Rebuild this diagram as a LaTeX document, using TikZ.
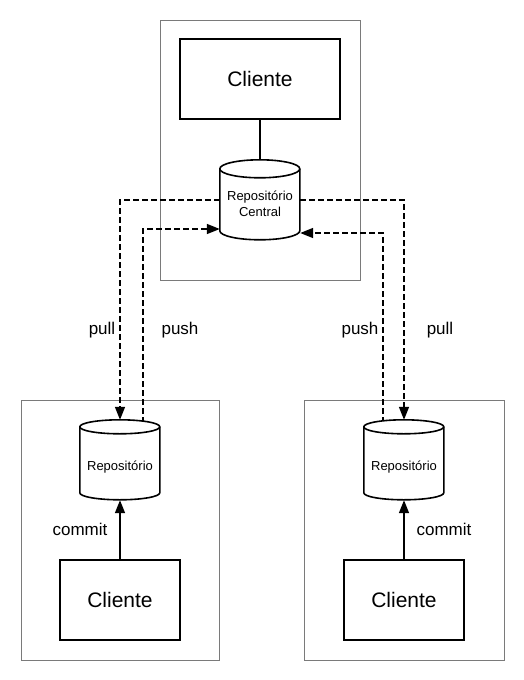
\documentclass[tikz,border=0pt]{standalone}
\usepackage{fontspec}
\setmainfont{Liberation Sans}
\usetikzlibrary{arrows.meta}
\tikzset{
  outer/.style={draw=black!52, line width=1pt, fill=none},
  cbox/.style={draw=black, line width=1.6pt, fill=white, minimum width=120pt, minimum height=80pt, font=\fontsize{21}{25}\selectfont},
  cylnode/.style={draw=none, minimum width=80pt, minimum height=80pt, inner sep=0pt},
  solid line/.style={draw=black, line width=1.6pt},
  dashline/.style={draw=black, line width=1.6pt, dash pattern=on 6pt off 3pt, -{Triangle[length=13pt,width=10pt]}},
  commitarrow/.style={draw=black, line width=1.6pt, -{Triangle[length=13pt,width=10pt]}},
  lbl/.style={font=\fontsize{17}{20}\selectfont, inner sep=0pt},
  cyltext/.style={font=\fontsize{13}{16}\selectfont, align=center, inner sep=0pt},
}
\newcommand\mycyl[2]{%
  \path (#1.north west) ++(0,-#2) coordinate (#1-a);
  \filldraw[fill=white, draw=black, line width=1.6pt] (#1-a) -- ++(0,{-(80-2*#2)}) arc[start angle=180, end angle=360, x radius=40, y radius=#2] -- ++(0,{80-2*#2}) arc[start angle=0, end angle=180, x radius=40, y radius=#2] -- cycle;
  \draw[black, line width=1.6pt] (#1-a) arc[start angle=180, end angle=360, x radius=40, y radius=#2];
}
\begin{document}
\begin{tikzpicture}[x=1pt,y=1pt]
\useasboundingbox (0,0) rectangle (524,-680);
% outer boxes
\node[outer, minimum width=200pt, minimum height=260pt] (gt) at (260,-150) {};
\node[outer, minimum width=198pt, minimum height=260pt] (gl) at (120,-530) {};
\node[outer, minimum width=200pt, minimum height=260pt] (gr) at (404,-530) {};
% cylinder anchor nodes
\node[cylnode] (cr) at (260,-200) {};
\node[cylnode] (lr) at (120,-460) {};
\node[cylnode] (rr) at (404,-460) {};
% clients
\node[cbox, minimum width=160pt] (tc) at (260,-79) {Cliente};
\node[cbox] (lc) at (120,-600) {Cliente};
\node[cbox] (rc) at (404,-600) {Cliente};
% connectors
\draw[solid line] (tc.south) -- (cr.north);
\draw[dashline] (cr.west) -| (lr.north);
\draw[dashline] ([xshift=23pt,yshift=-3pt]lr.north) |- ([yshift=-29pt]cr.west);
\draw[dashline] (cr.east) -| (rr.north);
\draw[dashline] ([xshift=-21pt,yshift=-3pt]rr.north) |- ([yshift=-33pt]cr.east);
\draw[commitarrow] (lc.north) -- (lr.south);
\draw[commitarrow] (rc.north) -- (rr.south);
% cylinders
\mycyl{cr}{9}
\mycyl{lr}{7}
\mycyl{rr}{7}
\node[cyltext] (crt) at ([yshift=-4pt]cr.center) {Repositório\\Central};
\node[cyltext] (lrt) at ([yshift=-7pt]lr.center) {Repositório};
\node[cyltext] (rrt) at ([yshift=-7pt]rr.center) {Repositório};
% labels
\node[lbl] (l1) at (102,-330) {pull};
\node[lbl] (l2) at (180,-330) {push};
\node[lbl] (l3) at (360,-330) {push};
\node[lbl] (l4) at (440,-330) {pull};
\node[lbl] (l5) at (80,-529) {commit};
\node[lbl] (l6) at (444,-529) {commit};
\end{tikzpicture}
\end{document}
